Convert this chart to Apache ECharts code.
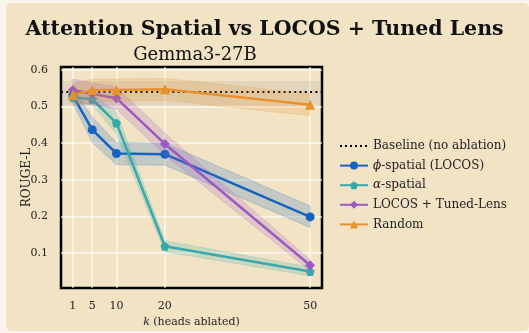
<!DOCTYPE html>
<html>
<head>
<meta charset="utf-8">
<script src="https://cdn.jsdelivr.net/npm/echarts@6/dist/echarts.min.js"></script>
<style>
  html, body { margin: 0; padding: 0; background: #faf5ec; }
  #panel {
    position: absolute; left: 6px; top: 3px; width: 523px; height: 328px;
    background: #f2e3c5; border-radius: 5px;
  }
  #chart { position: absolute; left: 0; top: 0; width: 529px; height: 333px; }
</style>
</head>
<body>
<div id="panel"></div>
<div id="chart"></div>
<script>
  // values
  const kValues = [1, 5, 10, 20, 50]
  const xTicks = [1, 5, 10, 20, 50]
  const yTicks = [0.1, 0.2, 0.3, 0.4, 0.5, 0.6]

  const baseline = 0.536
  const baselineLo = 0.502
  const baselineHi = 0.570

  const phiMean = [0.530, 0.437, 0.372, 0.370, 0.199]
  const phiLo = [0.510, 0.402, 0.341, 0.340, 0.170]
  const phiHi = [0.550, 0.472, 0.402, 0.400, 0.229]

  const alphaMean = [0.525, 0.520, 0.455, 0.119, 0.050]
  const alphaLo = [0.510, 0.505, 0.425, 0.104, 0.038]
  const alphaHi = [0.540, 0.535, 0.485, 0.134, 0.062]

  const locosMean = [0.545, 0.535, 0.523, 0.398, 0.067]
  const locosLo = [0.515, 0.505, 0.493, 0.368, 0.052]
  const locosHi = [0.575, 0.565, 0.553, 0.428, 0.082]

  const randomMean = [0.532, 0.545, 0.545, 0.547, 0.505]
  const randomLo = [0.502, 0.515, 0.515, 0.517, 0.475]
  const randomHi = [0.562, 0.575, 0.575, 0.577, 0.535]

  const serif = 'DejaVu Serif'
  const pentagon = 'path://M0,-1L0.951,-0.309L0.588,0.809L-0.588,0.809L-0.951,-0.309Z'
  const diamond = 'path://M0,-1L1,0L0,1L-1,0Z'
  // dotted legend sample on a 28x10 box (corner specks fix the box size)
  const dottedIcon = 'path://M0,0L0.01,0L0,0.01Z' +
    [0, 5, 10, 15, 20, 25].map((x) => `M${x},4h2v2h-2Z`).join('') +
    'M28,10L27.99,10L28,9.99Z'

  function bandSeries(name, color, lo, hi, z) {
    return {
      type: 'custom',
      name: name + ' band',
      z,
      silent: true,
      data: kValues.map((k, i) => [k, lo[i], hi[i]]),
      encode: { x: 0, y: [1, 2] },
      renderItem(params, api) {
        if (params.dataIndex !== 0) return null
        const top = kValues.map((k, i) => api.coord([k, hi[i]]))
        const bot = kValues.map((k, i) => api.coord([k, lo[i]])).reverse()
        return {
          type: 'polygon',
          shape: { points: top.concat(bot) },
          style: { fill: color, opacity: 0.2, stroke: color, lineWidth: 1 },
        }
      },
    }
  }

  function lineSeries(name, color, values, symbol, size, z) {
    return {
      type: 'line',
      name,
      z,
      data: kValues.map((k, i) => [k, values[i]]),
      symbol,
      symbolSize: size,
      showAllSymbol: true,
      lineStyle: { color, width: 2.5 },
      itemStyle: { color },
      emphasis: { disabled: true },
    }
  }

  const series = [
    {
      type: 'line',
      name: 'Baseline (no ablation)',
      data: [],
      symbol: 'none',
      z: 1,
      lineStyle: { color: '#000', width: 2, type: [2, 3.3] },
      itemStyle: { color: '#000' },
      markArea: {
        silent: true,
        itemStyle: { color: 'rgba(120,120,120,0.13)' },
        data: [[{ yAxis: baselineLo }, { yAxis: baselineHi }]],
      },
      markLine: {
        silent: true,
        symbol: ['none', 'none'],
        label: { show: false },
        lineStyle: { color: '#000', width: 2, type: [2, 3.3] },
        data: [{ yAxis: baseline }],
      },
    },
    bandSeries('phi', '#1565c0', phiLo, phiHi, 2),
    lineSeries('ϕ-spatial (LOCOS)', '#1565c0', phiMean, 'circle', 9, 3),
    bandSeries('alpha', '#38a8aa', alphaLo, alphaHi, 4),
    lineSeries('α-spatial', '#38a8aa', alphaMean, pentagon, 9, 5),
    bandSeries('locos', '#9b59c4', locosLo, locosHi, 6),
    lineSeries('LOCOS + Tuned-Lens', '#9b59c4', locosMean, diamond, 10, 7),
    bandSeries('random', '#e8912d', randomLo, randomHi, 8),
    lineSeries('Random', '#e8912d', randomMean, 'triangle', 10, 9),
  ]

  const chart = echarts.init(document.getElementById('chart'), null, { renderer: 'canvas' })
  chart.setOption({
    animation: false,
    backgroundColor: 'transparent',
    title: [
      {
        text: 'Attention Spatial vs LOCOS + Tuned Lens',
        left: 'center',
        top: 14,
        textStyle: { fontFamily: serif, fontWeight: 'bold', fontSize: 20.5, color: '#111' },
      },
      {
        text: 'Gemma3-27B',
        left: 190,
        textAlign: 'center',
        top: 41,
        textStyle: { fontFamily: serif, fontWeight: 'normal', fontSize: 18, color: '#111' },
      },
    ],
    legend: {
      orient: 'vertical',
      left: 334,
      top: 135,
      itemWidth: 28,
      itemHeight: 10,
      itemGap: 7.6,
      data: [
        { name: 'Baseline (no ablation)', icon: dottedIcon, itemStyle: { color: '#000' } },
        'ϕ-spatial (LOCOS)',
        'α-spatial',
        'LOCOS + Tuned-Lens',
        'Random',
      ],
      formatter(name) {
        if (name[0] === 'ϕ' || name[0] === 'α') return '{i|' + name[0] + '}' + name.slice(1)
        return name
      },
      textStyle: {
        fontFamily: serif,
        fontSize: 12,
        color: '#222',
        rich: { i: { fontFamily: serif, fontStyle: 'italic', fontSize: 12, color: '#222' } },
      },
      selectedMode: false,
    },
    grid: {
      left: 61,
      top: 67,
      width: 261,
      height: 221,
      show: true,
      backgroundColor: '#f2e3c5',
      borderColor: '#000',
      borderWidth: 2.5,
    },
    xAxis: {
      type: 'value',
      min: -1.45,
      max: 52.45,
      name: '{i|k} (heads ablated)',
      nameLocation: 'middle',
      nameGap: 22,
      nameTextStyle: {
        fontFamily: serif,
        fontSize: 11,
        color: '#222',
        rich: { i: { fontFamily: serif, fontStyle: 'italic', fontSize: 11, color: '#222' } },
      },
      axisLine: { show: false },
      axisTick: { show: false, customValues: xTicks },
      axisLabel: { customValues: xTicks, margin: 13, fontFamily: serif, fontSize: 11, color: '#222' },
      splitLine: { show: true, lineStyle: { color: 'rgba(255,255,255,0.75)', width: 1.5 } },
    },
    yAxis: {
      type: 'value',
      min: 0.005,
      max: 0.608,
      name: 'ROUGE-L',
      nameLocation: 'middle',
      nameGap: 28,
      nameMoveOverlap: false,
      nameTextStyle: { fontFamily: serif, fontSize: 12, color: '#222' },
      axisLine: { show: false },
      axisTick: { show: false, customValues: yTicks },
      axisLabel: {
        customValues: yTicks,
        margin: 13,
        fontFamily: serif,
        fontSize: 11,
        color: '#222',
        formatter: (v) => v.toFixed(1),
      },
      splitLine: { show: true, lineStyle: { color: 'rgba(255,255,255,0.75)', width: 1.5 } },
    },
    series,
  })
</script>
</body>
</html>
